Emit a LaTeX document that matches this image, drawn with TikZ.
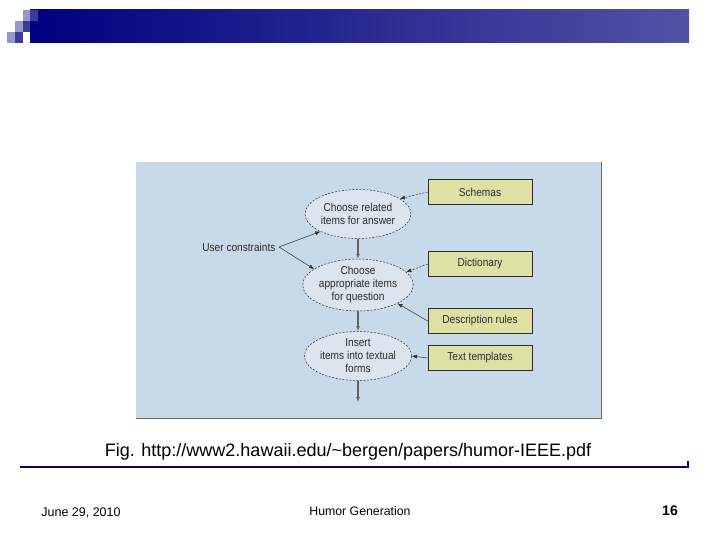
\documentclass[tikz,border=0pt]{standalone}
\usepackage{fontspec}
\setmainfont{Liberation Sans}
\newfontfamily\condfont{Liberation Sans}[FakeStretch=0.88]
\usetikzlibrary{shapes.geometric,arrows.meta}
\definecolor{navy}{RGB}{0,0,128}
\definecolor{barend}{RGB}{82,82,164}
\definecolor{sqlight}{RGB}{150,150,204}
\definecolor{sqdark}{RGB}{60,60,150}
\definecolor{panelbg}{RGB}{200,217,233}
\definecolor{boxfill}{RGB}{221,226,164}
\definecolor{ink}{RGB}{45,45,45}
\definecolor{ellfill}{RGB}{218,229,240}
\tikzset{
  dtext/.style={font=\condfont\fontsize{11.5}{13}\selectfont, text=ink},
  ell/.style={ellipse, draw=ink, dashed, dash pattern=on 2pt off 1.5pt, line width=0.5pt, fill=ellfill, minimum width=106pt, minimum height=49pt, inner sep=0pt, align=center, dtext},
  srcbox/.style={draw=ink, line width=0.6pt, fill=boxfill, minimum width=104pt, minimum height=25pt, inner sep=0pt, dtext},
  flow/.style={-{Latex[length=5pt,width=4pt]}, draw=ink!75, line width=1.2pt},
  thin/.style={-{Latex[length=5pt,width=4pt]}, draw=ink, line width=0.5pt},
  thindash/.style={thin, dash pattern=on 2pt off 1.5pt}
}
\begin{document}
\begin{tikzpicture}[x=1pt,y=-1pt]
\useasboundingbox (0,0) rectangle (720,540);
\fill[white] (0,0) rectangle (720,540);
% header bar
\shade[left color=navy, right color=barend] (30,10) rectangle (689,43);
\fill[sqlight] (7,32) rectangle (15,43);
\fill[sqdark] (15,32) rectangle (23,43);
\fill[sqlight] (15,21) rectangle (23,32);
\fill[sqdark] (23,21) rectangle (30,32);
\fill[sqlight] (23,10) rectangle (30,21);
\fill[sqdark] (30,10) rectangle (38,21);
% panel
\fill[panelbg] (136,162) rectangle (601,418);
\draw[ink!70, line width=0.8pt] (601,162) -- (601,418) -- (136,418);
% nodes
\node[ell] (e1) at (358,214) {Choose related\\items for answer};
\node[ell] (e2) at (358,285) {Choose\\appropriate items\\for question};
\node[ell] (e3) at (358,356) {Insert\\items into textual\\forms};
\node[srcbox] (sch) at (480,192) {Schemas};
\node[srcbox] (dic) at (480,264) {Dictionary};
\node[srcbox] (des) at (480,321) {Description rules};
\node[srcbox] (tex) at (480,358) {Text templates};
\node[dtext, anchor=east] (uc) at (279,247) {User constraints};
\coordinate (out) at (358,402);
% connectors
\draw[thin] (uc.east) -- (e1.205);
\draw[thin] (uc.east) -- (e2.160);
\draw[flow] (e1) -- (e2);
\draw[flow] (e2) -- (e3);
\draw[flow] (e3) -- (out);
\draw[thindash] (sch.west) -- (e1.20);
\draw[thindash] (dic.west) -- (e2.15);
\draw[thin] (des.west) -- (e2.-25);
\draw[thin] (tex.west) -- (e3.east);
% caption
\node[font=\fontsize{18}{21}\selectfont] (cap) at (348,452) {Fig. http://www2.hawaii.edu/\char`~bergen/papers/humor-IEEE.pdf};
\draw[navy, line width=2.5pt] (20,467) -- (689,467);
\draw[navy, line width=2pt] (688,467) -- (688,461);
% footer
\node[font=\fontsize{12.5}{14}\selectfont] (date) at (81,513) {June 29, 2010};
\node[font=\fontsize{12.3}{14}\selectfont] (title) at (360,511) {Humor Generation};
\node[font=\bfseries\fontsize{14}{16}\selectfont] (page) at (670,511) {16};
\end{tikzpicture}
\end{document}
